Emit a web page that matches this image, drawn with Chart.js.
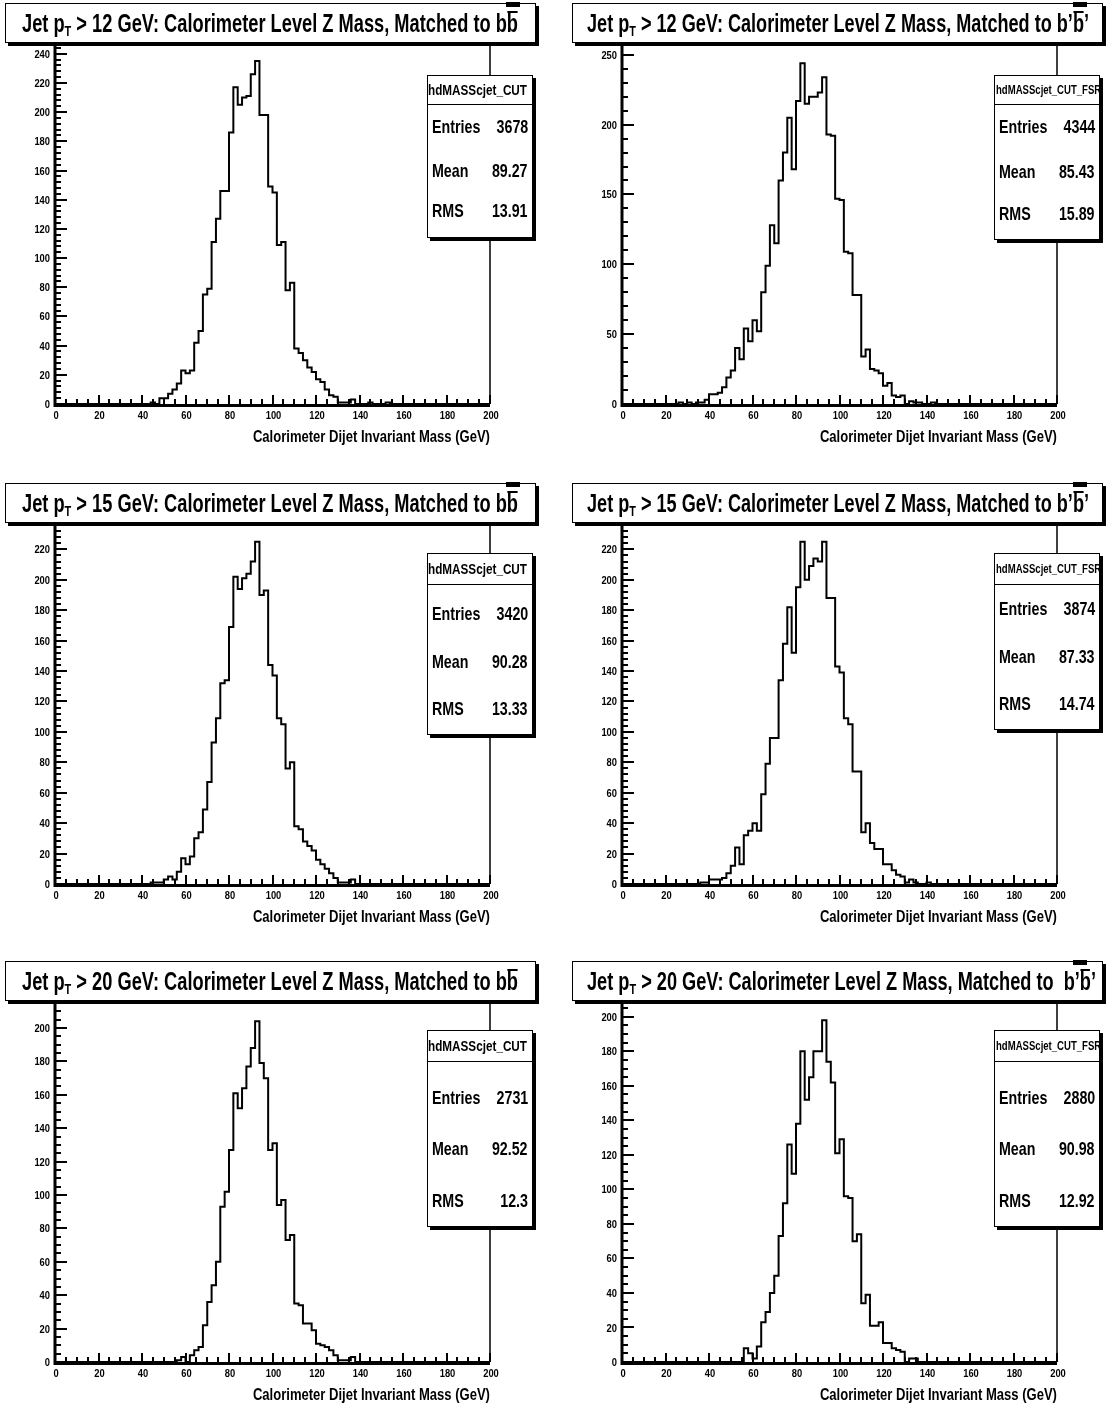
<!DOCTYPE html>
<html>
<head>
<meta charset="utf-8">
<script src="https://cdn.jsdelivr.net/npm/chart.js@4.4.1/dist/chart.umd.min.js"></script>
<style>
  body { margin: 0; background: #fff; }
  #page {
    position: relative; width: 1109px; height: 1409px; overflow: hidden; background: #fff;
    font-family: "Liberation Sans", Arial, Helvetica, sans-serif;
    font-weight: bold; color: #000;
  }
  .panel { position: absolute; width: 555px; height: 450px; }
  .panel canvas { position: absolute; left: 0; top: 0; }
  .title {
    position: absolute; left: 5px; top: 3px; width: 529px; height: 38px;
    border: 1.5px solid #000; box-shadow: 3px 3px 0 #000; background: #fff;
    font-size: 25px; line-height: 38px; white-space: nowrap; overflow: hidden;
  }
  .title .txt { position: absolute; top: 0; display: inline-block; transform-origin: 0 50%; }
  .title sub { font-size: 60%; vertical-align: -4px; line-height: 0; }
  .ov { position: relative; }
  .ov::after { content: ""; position: absolute; left: 1px; right: 1px; top: 2px; height: 2px; background: #000; }
  .mark { position: absolute; left: 506px; top: 2px; width: 14px; height: 5px; background: #000; }
  .stats {
    position: absolute; left: 427px; width: 104px;
    border: 1.5px solid #000; box-shadow: 3px 3px 0 #000; background: #fff; overflow: hidden;
  }
  .stats .name {
    position: absolute; left: 0; right: 0; top: 0; border-bottom: 1.5px solid #000;
    white-space: nowrap; overflow: hidden; font-size: 15px;
  }
  .stats .name span { display: inline-block; transform-origin: 0 50%; }
  .stats .row { position: absolute; left: 4px; right: 4px; height: 22px; line-height: 22px; font-size: 19px; }
  .stats .row .k { position: absolute; left: 0; transform: scaleX(0.75); transform-origin: 0 50%; }
  .stats .row .v { position: absolute; right: 0; transform: scaleX(0.75); transform-origin: 100% 50%; }
  .xtitle { position: absolute; right: 65px; top: 427px; font-size: 17px; white-space: nowrap; line-height: 20px; }
  .xtitle span { display: inline-block; transform-origin: 100% 50%; }
</style>
</head>
<body>
<div id="page"></div>
<script>
// Dijet invariant mass histograms: 2 GeV bins from 0 to 200 GeV.
const BIN_WIDTH = 2;
const N_BINS = 100;
const FIRST_EDGE = 20;   // counts below start at the 20-22 GeV bin; all other bins are empty

const countsPt12bb = [
  0,0,0,0,0,  0,0,0,0,0,  0,0,1,0,4,  4,7,10,14,23,
  21,23,42,50,75,  79,111,127,146,146,  186,217,205,210,211,  226,235,198,198,149,
  145,109,111,78,83,  38,35,30,25,22,  17,15,10,6,5,  1,1,1,3,0,
  0,0,1,0,0,  0,1,0,0,0
];
const countsPt12bpbp = [
  0,0,0,1,0,  1,0,1,1,3,  7,7,8,12,19,  24,40,32,54,45,
  60,52,80,99,128,  115,160,180,205,168,  217,244,215,220,220,  223,234,193,192,147,
  146,109,108,78,78,  34,39,25,24,22,  13,15,6,5,6,  0,2,1,1,0,
  0,1,0,0,0,  0,0,0,0,0
];
const countsPt15bb = [
  0,0,0,0,0,  0,0,0,0,0,  0,0,1,1,1,  3,5,3,8,17,
  13,18,30,34,49,  67,93,109,132,134,  169,202,194,201,204,  212,225,190,193,144,
  137,109,105,76,80,  38,36,28,25,22,  16,13,10,7,4,  1,1,1,3,0,
  0,0,0,0,0,  0,0,0,0,0
];
const countsPt15bpbp = [
  0,0,0,0,0,  0,0,0,1,1,  3,3,3,4,7,  12,24,13,32,35,
  40,35,59,79,96,  96,134,158,182,152,  195,225,200,209,214,  212,225,188,188,143,
  139,109,105,74,74,  34,40,27,23,23,  13,13,9,6,5,  1,3,1,0,0,
  1,0,0,0,0,  0,0,0,0,0
];
const countsPt20bb = [
  0,0,0,0,0,  0,0,0,0,0,  0,0,0,0,0,  0,0,0,1,3,
  0,4,7,9,22,  36,46,60,93,102,  127,161,152,164,177,  188,204,179,170,127,
  131,94,97,73,76,  35,34,23,23,19,  11,10,9,7,4,  1,1,1,3,0,
  0,0,0,0,0,  0,0,0,0,0
];
const countsPt20bpbp = [
  0,0,0,0,0,  0,0,0,0,0,  0,0,0,0,0,  0,0,0,8,5,
  2,9,23,29,40,  50,73,92,126,109,  138,180,152,165,180,  180,198,174,162,121,
  129,96,95,70,74,  34,39,21,21,23,  11,11,8,7,6,  0,2,2,0,0,
  0,0,0,0,0,  0,0,0,0,0
];

// Axis tick labels
const massTicks = [0, 20, 40, 60, 80, 100, 120, 140, 160, 180, 200];
const yTicks240 = [0, 20, 40, 60, 80, 100, 120, 140, 160, 180, 200, 220, 240];
const yTicks250 = [0, 50, 100, 150, 200, 250];
const yTicks220 = [0, 20, 40, 60, 80, 100, 120, 140, 160, 180, 200, 220];
const yTicks200 = [0, 20, 40, 60, 80, 100, 120, 140, 160, 180, 200];

// Statistics box contents
const statNames = ["hdMASScjet_CUT", "hdMASScjet_CUT_FSR", "hdMASScjet_CUT", "hdMASScjet_CUT_FSR", "hdMASScjet_CUT", "hdMASScjet_CUT_FSR"];
const statEntries = ["3678", "4344", "3420", "3874", "2731", "2880"];
const statMeans = ["89.27", "85.43", "90.28", "87.33", "92.52", "90.98"];
const statRms = ["13.91", "15.89", "13.33", "14.74", "12.3", "12.92"];

const ptCuts = ["12", "12", "15", "15", "20", "20"];
const matchHtml = [
  'b<span class="ov">b</span>', 'b’<span class="ov">b</span>’',
  'b<span class="ov">b</span>', 'b’<span class="ov">b</span>’',
  'b<span class="ov">b</span>', '&nbsp;b’<span class="ov">b</span>’'
];

// Panel layout: position on the page, y range, title width and statistics box geometry
const panels = [
  { counts: countsPt12bb,   yTicks: yTicks240, yMax: 246, yMinor: 4,  left: 0,   top: 0,   titleX: 16, titleW: 496, mark: true,
    box: { top: 75, h: 161, head: 28, rows: [51, 95, 135] } },
  { counts: countsPt12bpbp, yTicks: yTicks250, yMax: 257, yMinor: 10, left: 567, top: 0,   titleX: 14, titleW: 502, mark: true,
    box: { top: 75, h: 163, head: 28, rows: [51, 96, 138] } },
  { counts: countsPt15bb,   yTicks: yTicks220, yMax: 236, yMinor: 4,  left: 0,   top: 480, titleX: 16, titleW: 496, mark: true,
    box: { top: 73, h: 180, head: 30, rows: [60, 108, 155] } },
  { counts: countsPt15bpbp, yTicks: yTicks220, yMax: 236, yMinor: 4,  left: 567, top: 480, titleX: 14, titleW: 502, mark: true,
    box: { top: 73, h: 175, head: 30, rows: [55, 103, 150] } },
  { counts: countsPt20bb,   yTicks: yTicks200, yMax: 215, yMinor: 5,  left: 0,   top: 958, titleX: 16, titleW: 496, mark: false,
    box: { top: 72, h: 195, head: 30, rows: [67, 118, 170] } },
  { counts: countsPt20bpbp, yTicks: yTicks200, yMax: 208, yMinor: 5,  left: 567, top: 958, titleX: 14, titleW: 509, mark: true,
    box: { top: 72, h: 195, head: 30, rows: [67, 118, 170] } }
];

const TICK_FONT = 'bold 11px "Liberation Sans", Arial, sans-serif';
const TICK_SQUEEZE = 0.85;

// ROOT-style frame: thick left/bottom axes, inward major and minor ticks, narrow tick labels
const rootFrame = {
  id: 'rootFrame',
  afterDatasetsDraw(chart, args, opts) {
    const { ctx, chartArea: { left, right, top, bottom }, scales: { x, y } } = chart;
    ctx.save();
    ctx.strokeStyle = '#000';
    ctx.lineWidth = 1.5;
    ctx.beginPath();
    ctx.moveTo(left, top); ctx.lineTo(right, top); ctx.lineTo(right, bottom);
    ctx.stroke();

    ctx.lineWidth = 2;
    ctx.beginPath();
    for (let v = 0; v <= y.max; v += opts.yMinor) {
      const py = Math.round(y.getPixelForValue(v));
      const isMajor = opts.yTicks.includes(v);
      ctx.moveTo(left, py); ctx.lineTo(left + (isMajor ? 12 : 6), py);
    }
    for (let v = 0; v <= 200; v += 5) {
      const px = Math.round(x.getPixelForValue(v));
      const isMajor = massTicks.includes(v);
      ctx.moveTo(px, bottom); ctx.lineTo(px, bottom - (isMajor ? 9 : 5));
    }
    ctx.stroke();

    ctx.lineWidth = 3;
    ctx.beginPath();
    ctx.moveTo(left, top); ctx.lineTo(left, bottom + 1.5); ctx.lineTo(right, bottom + 1.5);
    ctx.stroke();

    ctx.fillStyle = '#000';
    ctx.font = TICK_FONT;
    ctx.textBaseline = 'middle';
    ctx.textAlign = 'right';
    opts.yTicks.forEach(v => {
      ctx.save();
      ctx.translate(left - 5, y.getPixelForValue(v) + 1);
      ctx.scale(TICK_SQUEEZE, 1);
      ctx.fillText(String(v), 0, 0);
      ctx.restore();
    });
    ctx.textAlign = 'center';
    massTicks.forEach(v => {
      ctx.save();
      ctx.translate(x.getPixelForValue(v) + 1, bottom + 12);
      ctx.scale(TICK_SQUEEZE, 1);
      ctx.fillText(String(v), 0, 0);
      ctx.restore();
    });
    ctx.restore();
  }
};

const page = document.getElementById('page');

function squeezeTo(el, width) {
  const w = el.getBoundingClientRect().width;
  if (w > 0) el.style.transform = 'scaleX(' + (width / w) + ')';
}

panels.forEach((p, idx) => {
  const div = document.createElement('div');
  div.className = 'panel';
  div.style.left = p.left + 'px';
  div.style.top = p.top + 'px';
  page.appendChild(div);

  const canvas = document.createElement('canvas');
  canvas.width = 555; canvas.height = 450;
  canvas.style.width = '555px'; canvas.style.height = '450px';
  div.appendChild(canvas);

  const full = new Array(N_BINS).fill(0);
  p.counts.forEach((c, i) => { full[FIRST_EDGE / BIN_WIDTH + i] = c; });
  const points = full.map((c, i) => ({ x: i * BIN_WIDTH, y: c }));
  points.push({ x: N_BINS * BIN_WIDTH, y: full[N_BINS - 1] });

  new Chart(canvas, {
    type: 'line',
    data: {
      datasets: [{
        data: points, stepped: 'before', borderColor: '#000', borderWidth: 2,
        pointRadius: 0, fill: false, tension: 0
      }]
    },
    options: {
      responsive: false, animation: false, devicePixelRatio: 1,
      layout: { padding: { left: 0, right: 65, top: 45, bottom: 0 } },
      plugins: {
        legend: { display: false }, tooltip: { enabled: false },
        rootFrame: { yMinor: p.yMinor, yTicks: p.yTicks }
      },
      scales: {
        x: {
          type: 'linear', min: 0, max: 200,
          grid: { display: false, drawTicks: false }, border: { display: false },
          ticks: { display: false },
          afterFit: s => { s.height = 46; }
        },
        y: {
          type: 'linear', min: 0, max: p.yMax,
          grid: { display: false, drawTicks: false }, border: { display: false },
          ticks: { display: false },
          afterFit: s => { s.width = 55; }
        }
      }
    },
    plugins: [rootFrame]
  });

  const title = document.createElement('div');
  title.className = 'title';
  title.innerHTML = '<span class="txt">Jet p<sub>T</sub> &gt; ' + ptCuts[idx] +
    ' GeV: Calorimeter Level Z Mass, Matched to ' + matchHtml[idx] + '</span>';
  div.appendChild(title);
  const txt = title.querySelector('.txt');
  txt.style.left = p.titleX + 'px';
  squeezeTo(txt, p.titleW);

  if (p.mark) {
    const mark = document.createElement('div');
    mark.className = 'mark';
    div.appendChild(mark);
  }

  const b = p.box;
  const stats = document.createElement('div');
  stats.className = 'stats';
  stats.style.top = b.top + 'px';
  stats.style.height = b.h + 'px';
  const longName = statNames[idx].length > 15;
  const nameStyle = 'height:' + b.head + 'px;line-height:' + b.head + 'px;' +
    (longName ? 'font-size:12.5px;text-align:left;padding-left:1px;' : 'text-align:center;');
  let html = '<div class="name" style="' + nameStyle + '"><span>' + statNames[idx] + '</span></div>';
  const keys = ['Entries', 'Mean', 'RMS'];
  const vals = [statEntries[idx], statMeans[idx], statRms[idx]];
  keys.forEach((k, i) => {
    html += '<div class="row" style="top:' + (b.rows[i] - 11) + 'px"><span class="k">' + k +
      '</span><span class="v">' + vals[i] + '</span></div>';
  });
  stats.innerHTML = html;
  div.appendChild(stats);
  const nameSpan = stats.querySelector('.name span');
  if (longName) nameSpan.style.transform = 'scaleX(0.765)';
  else squeezeTo(nameSpan, 99);

  const xt = document.createElement('div');
  xt.className = 'xtitle';
  xt.innerHTML = '<span>Calorimeter Dijet Invariant Mass (GeV)</span>';
  div.appendChild(xt);
  squeezeTo(xt.querySelector('span'), 237);
});
</script>
</body>
</html>
